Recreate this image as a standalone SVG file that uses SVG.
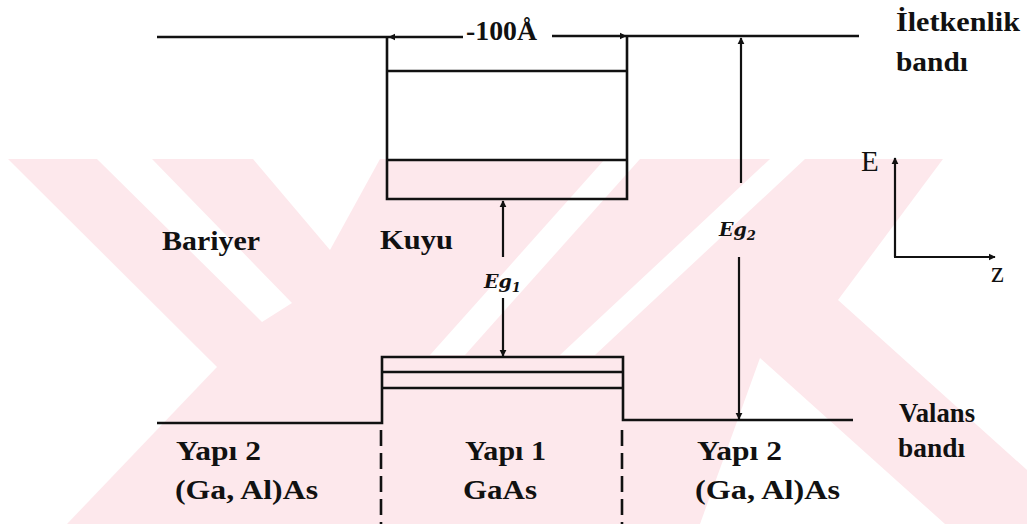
<svg xmlns="http://www.w3.org/2000/svg" width="1027" height="524" viewBox="0 0 1027 524">
<defs>
<marker id="ah" viewBox="0 0 10 10" refX="9" refY="5" markerWidth="3.2" markerHeight="3.2" orient="auto" markerUnits="strokeWidth">
<path d="M0,0 L10,5 L0,10 z" fill="#111"/>
</marker>
<style>
.ln{stroke:#111;stroke-width:2.6;fill:none}
.ar{stroke:#111;stroke-width:2.2;fill:none;marker-end:url(#ah)}
.dash{stroke:#111;stroke-width:2.6;fill:none;stroke-dasharray:16 7}
.wm{fill:#fde8ec}
.wh{fill:#ffffff}
.t{font-family:"Liberation Serif","DejaVu Serif",serif;font-weight:bold;font-size:28px;fill:#111}
.eg{font-family:"DejaVu Serif","Liberation Serif",serif;font-weight:bold;font-style:italic;font-size:19px;fill:#111}
.ax{font-family:"Liberation Serif","DejaVu Serif",serif;font-size:29px;fill:#111}
</style>
</defs>
<rect width="1027" height="524" fill="#ffffff"/>
<g id="watermark">
<rect class="wm" x="0" y="159" width="1027" height="365"/>
<polygon class="wh" points="0,159 8,159 217,367 67,524 0,524"/>
<polygon class="wh" points="97,159 152,159 292,303 262,322"/>
<polygon class="wh" points="253,159 380,159 330,250"/>
<polygon class="wh" points="605,159 640,159 465,355 430,355"/>
<polygon class="wh" points="770,159 805,159 595,355 560,355"/>
<polygon class="wh" points="943,159 1027,159 1027,470 838,300"/>
<polygon class="wh" points="760,358 945,524 700,524"/>
</g>
<g id="conduction-band">
<path class="ln" d="M157,37 H463 M552,36 H859"/>
<path class="ln" d="M387,37 V199 H627 V36"/>
</g>
<g id="well-levels">
<path class="ln" d="M387,71 H627 M387,160 H627"/>
<path class="ln" d="M382,372 H623 M382,388 H623"/>
</g>
<g id="valence-band">
<path class="ln" d="M157,423 H382 V357 H623 V420 H853"/>
</g>
<g id="boundaries">
<path class="dash" d="M381,430 V524 M622,430 V524"/>
</g>
<g id="connectors">
<path class="ar" d="M463,37 H389"/>
<path class="ar" d="M552,36 H626"/>
<path class="ar" d="M503,257 V201"/>
<path class="ar" d="M503,298 V356"/>
<path class="ar" d="M741,183 V38"/>
<path class="ar" d="M739,257 V419"/>
<path class="ar" d="M895,257 V158"/>
<path class="ar" d="M894,257 H995"/>
</g>
<g id="labels">
<text class="t" x="466" y="40" font-size="18" textLength="71" lengthAdjust="spacingAndGlyphs">-100Å</text>
<text class="t" x="896" y="31" textLength="124" lengthAdjust="spacingAndGlyphs">İletkenlik</text>
<text class="t" x="896" y="71" textLength="72" lengthAdjust="spacingAndGlyphs">bandı</text>
<text class="t" x="162" y="250" textLength="98" lengthAdjust="spacingAndGlyphs">Bariyer</text>
<text class="t" x="380" y="249" textLength="73" lengthAdjust="spacingAndGlyphs">Kuyu</text>
<text class="eg" x="484" y="288">Eg<tspan font-size="13" dy="4">1</tspan></text>
<text class="eg" x="719" y="236">Eg<tspan font-size="13" dy="4">2</tspan></text>
<text class="ax" x="861" y="171">E</text>
<text class="ax" x="991" y="282">z</text>
<text class="t" x="899" y="422" textLength="76" lengthAdjust="spacingAndGlyphs">Valans</text>
<text class="t" x="898" y="457" textLength="67" lengthAdjust="spacingAndGlyphs">bandı</text>
<text class="t" x="176" y="460" textLength="85" lengthAdjust="spacingAndGlyphs">Yapı 2</text>
<text class="t" x="175" y="499" textLength="143" lengthAdjust="spacingAndGlyphs">(Ga, Al)As</text>
<text class="t" x="465" y="460" textLength="81" lengthAdjust="spacingAndGlyphs">Yapı 1</text>
<text class="t" x="463" y="499" textLength="74" lengthAdjust="spacingAndGlyphs">GaAs</text>
<text class="t" x="697" y="460" textLength="85" lengthAdjust="spacingAndGlyphs">Yapı 2</text>
<text class="t" x="695" y="499" textLength="145" lengthAdjust="spacingAndGlyphs">(Ga, Al)As</text>
</g>
</svg>
